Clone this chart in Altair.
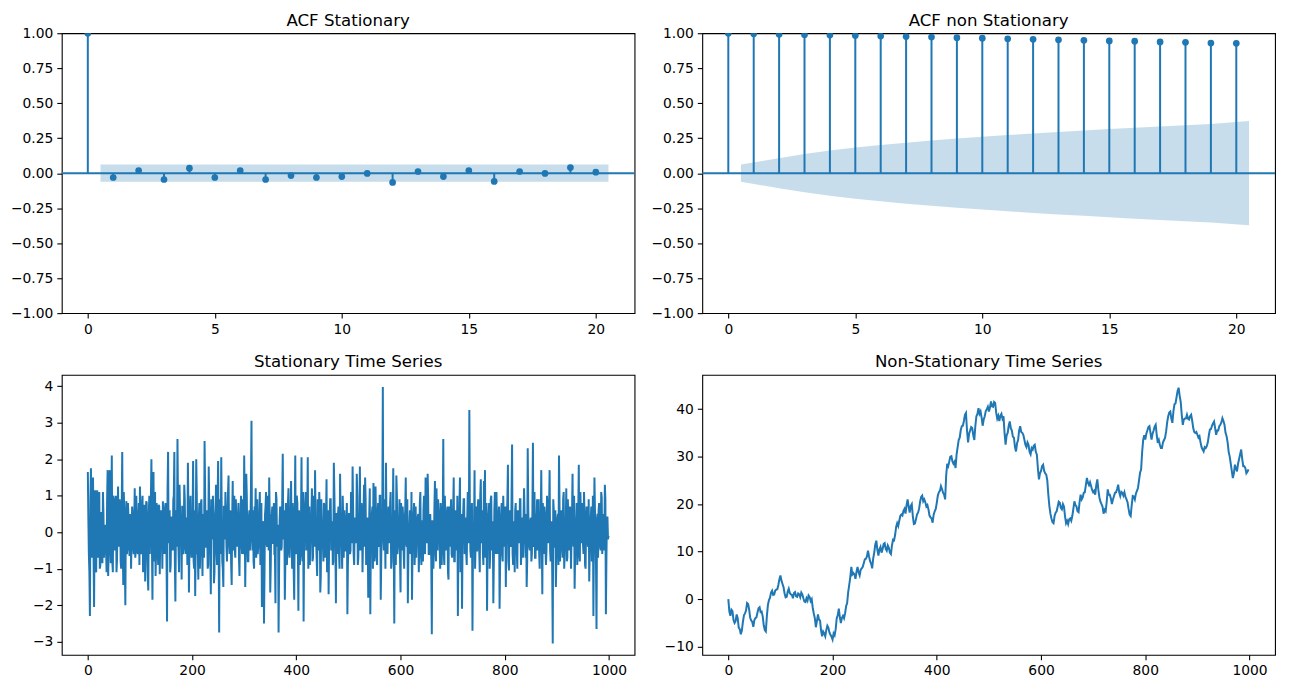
import altair as alt
import pandas as pd

BLUE = "#1f77b4"
FONT = "DejaVu Sans"

# ---------------- data ----------------
lags = list(range(21))
acf_stationary = [1.0, -0.031, 0.019, -0.045, 0.036, -0.031, 0.019, -0.045, -0.017, -0.031,
                  -0.024, -0.002, -0.066, 0.012, -0.024, 0.019, -0.059, 0.012, -0.002, 0.040, 0.007]
acf_nonstationary = [1.0, 0.997, 0.993, 0.990, 0.987, 0.983, 0.980, 0.976, 0.973, 0.968,
                     0.965, 0.960, 0.957, 0.953, 0.950, 0.945, 0.943, 0.938, 0.935, 0.930, 0.928]

band_x = [0.5, 2, 3, 4, 5, 6, 7, 8, 9, 10, 11, 12, 13, 14, 15, 16, 17, 18, 19, 20.5]
band_stationary = [0.062, 0.062, 0.062, 0.062, 0.062, 0.062, 0.062, 0.062, 0.062, 0.062,
                   0.062, 0.062, 0.062, 0.062, 0.062, 0.062, 0.062, 0.062, 0.062, 0.062]
band_nonstationary = [0.062, 0.107, 0.137, 0.162, 0.183, 0.201, 0.218, 0.233, 0.247, 0.260,
                      0.272, 0.284, 0.295, 0.305, 0.315, 0.325, 0.334, 0.343, 0.352, 0.372]

# stationary series: even-numbered observations
stationary_even = [
    1.65, -0.6, -2.3, 1.75, -0.7, 1.5, -2.05, 1.15, -1.1, 1.15, -0.7, 1.1, -0.9, 0.55, -0.85, 0.5, -0.3, 0.1, -1.1, 1.7, -0.5, 1.7, -0.85, 2.1, -1.1,
    0.9, -0.3, 1.0, -0.75, 1.25, -0.2, 0.7, -1.0, 2.2, -1.45, 0.5, -2.0, 0.85, -0.4, 0.4, -0.65, 0.3, -0.1, 0.45, -0.6, 1.2, -0.5, 0.35, -0.6, 0.8,
    1.25, -0.6, 0.7, -1.1, 0.75, -1.35, 0.85, -0.4, -1.6, 1.0, 0.3, 2.0, -1.85, 1.65, -0.7, -1.2, 0.8, -0.5, 0.75, -1.15, 0.6, 0.1, 0.85, -0.3, 0.65,
    0.1, -2.45, 2.2, -0.1, -1.1, 0.4, -0.3, 0.9, 2.2, -1.9, 0.6, 2.55, -0.5, 1.3, -0.2, -1.3, 0.7, -0.4, 0.9, -0.6, 0.3, 1.9, -1.65, 0.6, -0.3,
    -0.5, 1.95, -1.0, -1.75, 2.0, -0.6, -1.3, 0.8, -0.3, 0.9, -1.2, 0.4, 2.5, -0.4, 0.6, -1.0, 1.8, 0.2, -1.7, 0.5, 1.0, -1.4, 0.3, 1.3, -0.9,
    1.95, -2.75, 0.6, 2.05, -0.8, -1.5, 0.7, 1.1, -0.4, 0.2, 1.55, -0.6, 0.5, -1.45, 1.4, -0.3, -0.5, 0.9, -0.2, 0.4, -0.7, 0.2, 1.0, -0.6, -0.5,
    2.1, -1.5, 1.6, -0.3, -0.8, 0.6, 0.2, 3.05, -0.5, -0.8, 0.7, 1.2, -0.3, -0.6, 0.4, 1.1, -0.5, -2.05, 0.3, -2.5, 0.5, 1.1, -0.4, 0.2, 1.5,
    -1.65, 0.4, 0.7, -0.3, -0.6, -1.95, 0.9, -0.2, -2.75, 0.3, 0.6, -0.4, 2.15, 0.5, -1.85, 0.8, -0.9, 0.8, -0.5, 0.2, 1.4, -1.0, 0.3, -1.85, 2.1,
    -0.5, 0.8, -2.15, 0.4, -0.3, 2.05, -0.8, -2.45, 0.5, 1.1, -0.4, 2.05, -0.6, -0.9, 0.4, 1.2, -0.7, 0.3, 1.7, -0.2, -1.2, 0.6, 1.1, -1.65, 0.9,
    0.3, -0.8, 0.7, -0.4, 1.45, 0.1, -1.7, 0.4, 0.9, -0.3, -0.9, 1.9, 0.2, -1.95, 0.5, 0.5, -0.6, 1.6, -0.2, -1.0, 0.4, 0.6, -0.5, 0.3, -2.25,
    -0.4, 0.5, -0.5, 0.3, 1.8, -0.6, 0.2, -0.3, 1.6, -0.9, 0.4, 1.8, -0.4, 0.6, -0.2, 1.3, 1.5, -0.9, 0.4, -1.8, 0.5, -2.25, 0.1, 0.7, 1.35,
    -0.8, 1.25, -0.5, 0.5, -0.3, 1.0, -1.85, 0.6, 3.98, -0.5, 0.3, 1.9, -0.3, 0.4, -0.2, 0.8, -1.0, 0.3, 1.75, -2.5, 0.2, 1.55, -0.6, 0.2, 0.9,
    -1.65, 0.4, 0.7, -0.6, 0.3, 1.5, -0.4, -1.95, 0.2, 0.6, -0.5, -1.85, 0.3, 0.8, -0.3, -0.7, 0.4, 0.5, -0.4, 1.1, -0.9, 0.3, 0.6, -0.5, 1.5,
    -0.3, 1.6, -0.6, 0.4, -0.2, -2.8, 0.3, -0.4, 1.4, -0.8, 0.2, 0.9, -0.3, -1.0, 0.4, 0.6, 2.55, -0.9, 0.3, -0.5, 0.7, -1.3, 0.4, 0.5, -0.6,
    0.2, 1.5, -0.8, 0.6, -0.4, -2.3, 0.5, 1.5, -0.3, -2.1, 0.4, 0.9, -0.4, -0.6, 0.4, -0.2, 3.35, -0.5, 0.3, -2.7, 0.2, 1.7, -0.3, -0.5, 0.6,
    0.3, -1.1, 1.45, -0.2, -0.6, 1.4, 1.7, -0.4, -2.15, 0.5, 0.8, -0.6, 1.0, -0.5, -1.95, 0.6, -0.3, 1.1, -0.6, 0.4, -2.1, 0.2, 0.8, -0.8, 0.4,
    0.3, -1.5, 0.4, 1.85, -1.05, 0.6, -0.3, 2.4, -0.9, 0.2, 0.6, -0.4, -1.0, 0.5, -0.2, 0.9, -0.5, -0.6, 0.4, 0.4, -0.7, -1.5, 2.3, -0.2, -0.5,
    0.4, -0.6, 2.45, -0.3, -0.7, 0.5, 0.9, -0.3, -0.6, 0.3, 1.7, -1.7, 0.2, 0.7, -0.4, -0.5, 0.6, 0.9, 1.7, -0.8, 0.3, -3.05, 0.6, -0.4, -1.5,
    -0.4, 0.5, 2.1, -0.8, 0.4, -0.3, 0.9, -1.0, 0.3, 1.2, -0.7, 0.2, -0.5, 0.6, -0.2, 1.6, -0.4, -1.55, 0.4, 0.8, -0.6, 1.85, -0.8, 0.5, 0.3,
    -0.3, 1.1, -0.9, 0.2, 0.6, -0.4, -1.35, 0.3, 0.7, -0.6, -2.3, 1.5, 0.2, -2.65, 0.5, 0.6, -0.3, -0.5, 0.95, 0.2, -0.5, 1.3, -2.25, 0.4, -0.2,
]
# stationary series: odd-numbered observations
stationary_odd = [
    0.4, -1.1, 0.9, -0.4, 1.2, -0.6, 0.3, -0.9, 0.7, -0.2, 0.8, -1.0, 0.5, -0.3, 1.1, -0.7, 0.2, -0.5, 0.9, -1.2, 0.6, -0.1, 0.4, -0.8, 1.0,
    -0.5, 0.7, -1.1, 0.3, -0.4, 0.9, -0.8, 0.6, -0.2, 1.1, -0.9, 0.4, -0.6, 0.8, -0.3, 0.5, -1.0, 0.7, -0.4, 0.2, -0.7, 1.0, -0.5, 0.3, -0.9,
    0.6, -0.4, 1.0, -0.7, 0.3, -0.2, 0.8, -1.2, 0.5, -0.6, 0.9, -0.3, 0.4, -0.8, 1.1, -0.5, 0.2, -0.9, 0.7, -0.1, 0.5, -1.0, 0.3, -0.6, 0.8,
    -0.7, 1.2, -0.3, 0.6, -0.9, 0.4, -0.5, 1.0, -0.8, 0.2, -0.4, 0.9, -1.1, 0.5, -0.2, 0.7, -0.6, 1.3, -0.3, 0.4, -0.9, 0.6, -0.4, 1.0, -0.7,
    0.3, -0.8, 0.6, -0.2, 1.1, -0.5, 0.4, -1.0, 0.8, -0.3, 0.5, -0.7, 1.2, -0.4, 0.2, -0.9, 0.7, -0.6, 0.9, -0.2, 0.4, -1.1, 0.6, -0.5, 0.8,
    -0.4, 0.9, -0.6, 0.3, -1.0, 0.7, -0.2, 0.5, -0.8, 1.1, -0.3, 0.6, -0.9, 0.4, -0.5, 1.0, -0.7, 0.2, -0.4, 0.8, -1.2, 0.5, -0.3, 0.9, -0.6,
    0.7, -0.3, 1.0, -0.8, 0.4, -0.5, 1.2, -0.2, 0.6, -1.0, 0.3, -0.7, 0.9, -0.4, 0.5, -0.9, 0.8, -0.6, 0.2, -1.1, 0.7, -0.3, 1.0, -0.5, 0.4,
    -0.9, 0.5, -0.3, 0.8, -0.6, 1.1, -0.4, 0.2, -1.0, 0.7, -0.5, 0.9, -0.2, 0.6, -0.8, 0.3, -0.4, 1.2, -0.7, 0.5, -0.3, 0.8, -1.1, 0.4, -0.6,
    1.0, -0.4, 0.6, -0.9, 0.3, -0.6, 1.1, -0.3, 0.8, -0.5, 0.4, -1.0, 0.7, -0.2, 0.5, -0.8, 1.0, -0.4, 0.3, -0.7, 0.9, -0.5, 0.6, -1.2, 0.2,
    -0.3, 0.8, -0.7, 0.4, -1.1, 0.6, -0.2, 0.9, -0.5, 0.3, -0.8, 1.1, -0.4, 0.5, -0.6, 0.7, -1.0, 0.4, -0.3, 1.0, -0.7, 0.2, -0.5, 0.8, -0.9,
    0.5, -0.6, 1.1, -0.3, 0.7, -0.9, 0.4, -0.2, 1.0, -0.7, 0.3, -0.5, 0.8, -1.1, 0.6, -0.4, 0.9, -0.6, 0.2, -0.8, 1.2, -0.3, 0.5, -1.0, 0.7,
    -0.6, 0.3, -0.9, 0.8, -0.4, 1.0, -0.7, 0.5, -0.2, 0.9, -1.0, 0.4, -0.6, 0.7, -0.3, 1.1, -0.8, 0.2, -0.5, 0.6, -0.9, 1.0, -0.4, 0.3, -0.7,
    0.8, -0.5, 0.4, -1.0, 0.6, -0.3, 0.9, -0.7, 0.2, -0.6, 1.1, -0.4, 0.5, -0.9, 0.7, -0.2, 0.4, -1.1, 0.8, -0.5, 0.3, -0.8, 1.0, -0.6, 0.5,
    -0.2, 0.9, -0.6, 0.5, -0.8, 0.3, -1.0, 0.7, -0.4, 1.2, -0.5, 0.6, -0.3, 0.8, -0.9, 0.4, -0.6, 1.0, -0.2, 0.5, -1.1, 0.7, -0.4, 0.9, -0.7,
    0.6, -0.8, 0.3, -0.5, 1.0, -0.4, 0.7, -1.1, 0.5, -0.2, 0.9, -0.6, 0.4, -0.9, 1.1, -0.3, 0.6, -0.7, 0.8, -0.4, 0.2, -1.0, 0.7, -0.5, 0.9,
    -0.5, 1.0, -0.3, 0.6, -0.9, 0.4, -0.7, 0.8, -0.2, 0.5, -1.0, 0.9, -0.4, 0.3, -0.8, 1.1, -0.6, 0.4, -0.3, 0.7, -0.9, 0.5, -0.6, 1.0, -0.4,
    0.7, -0.2, 0.9, -0.8, 0.5, -0.4, 1.0, -0.6, 0.3, -1.1, 0.8, -0.5, 0.6, -0.3, 0.9, -0.9, 0.4, -0.7, 1.2, -0.2, 0.5, -0.8, 0.7, -0.4, 0.3,
    -0.8, 0.6, -0.4, 1.1, -0.7, 0.3, -0.5, 0.9, -1.0, 0.4, -0.2, 0.8, -0.6, 0.5, -0.9, 1.0, -0.3, 0.7, -0.5, 0.2, -1.1, 0.9, -0.4, 0.6, -0.7,
    0.4, -0.9, 0.8, -0.3, 0.6, -0.7, 1.1, -0.5, 0.2, -0.8, 0.9, -0.4, 0.7, -1.0, 0.5, -0.2, 1.0, -0.6, 0.3, -0.9, 0.6, -0.5, 1.1, -0.3, 0.8,
    -0.6, 0.5, -1.0, 0.7, -0.3, 0.9, -0.5, 0.4, -0.8, 1.0, -0.2, 0.6, -0.9, 0.3, -0.7, 0.8, -0.4, 1.1, -0.6, 0.5, -0.3, 0.9, -0.7, 0.4, -0.1,
]

# random walk at t = 0, 4, 8, ...
walk_a = [
    0.0, -3.5, -2.5, -5.0, -3.2, -6.0, -7.4, -4.8, -3.0, -0.8,
    -2.2, -4.5, -5.8, -4.0, -2.8, -1.7, -2.6, -5.5, -6.8, -1.2,
    0.3, 1.8, 1.0, 2.0, 3.0, 5.0, 3.2, 1.2, 0.5, 2.2,
    1.0, 0.2, 1.5, 0.5, 1.0, 1.4, 0.2, -0.6, -0.3, 0.5,
    0.0, -3.0, -5.9, -3.2, -4.5, -7.8, -7.2, -6.5, -6.0, -7.5,
    -8.5, -7.6, -4.0, -2.0, -5.0, -3.5, -3.0, -0.8, 3.0, 6.8,
    5.5, 4.3, 6.8, 5.0, 6.5, 7.6, 8.5, 10.2, 8.0, 6.5,
    9.8, 12.3, 9.2, 11.0, 10.5, 11.8, 10.2, 10.8, 9.5, 12.5,
    13.5, 16.0, 16.5, 17.8, 18.6, 18.0, 21.0, 18.2, 20.0, 15.8,
    16.8, 18.2, 20.5, 21.8, 21.0, 19.5, 18.9, 17.2, 16.1, 18.5,
    20.3, 22.5, 23.8, 22.4, 21.0, 28.5, 29.0, 30.1, 28.5, 27.6,
    32.0, 34.0, 36.4, 37.5, 39.2, 33.0, 35.5, 36.0, 33.5, 38.5,
    40.2, 39.5, 36.5, 38.5, 40.0, 39.5, 41.6, 40.5, 41.3, 38.0,
    37.5, 39.0, 38.5, 32.5, 35.0, 37.4, 35.5, 34.0, 31.1, 33.5,
    36.4, 35.0, 33.6, 32.0, 32.5, 30.5, 31.5, 32.5, 30.4, 25.2,
    27.0, 28.3, 26.5, 25.0, 19.6, 17.0, 16.0, 18.2, 19.5, 20.3,
    18.9, 19.5, 16.0, 15.8, 17.0, 17.5, 20.6, 19.5, 18.3, 22.0,
    21.4, 22.5, 25.5, 24.0, 23.8, 22.5, 22.0, 25.2, 21.4, 20.0,
    18.0, 18.5, 23.1, 22.0, 20.0, 21.7, 22.5, 24.1, 21.7, 22.4,
    22.5, 21.0, 19.0, 17.5, 21.7, 21.0, 22.8, 25.0, 27.3, 33.5,
    33.6, 35.5, 36.4, 33.6, 35.5, 36.7, 32.9, 32.5, 31.8, 33.5,
    35.3, 38.5, 39.5, 37.1, 41.0, 42.5, 44.5, 41.5, 36.7, 38.0,
    38.8, 37.8, 38.8, 36.0, 35.0, 34.6, 34.3, 32.0, 31.1, 31.8,
    33.0, 35.7, 36.5, 37.4, 34.6, 35.5, 36.7, 38.1, 36.7, 34.3,
    31.0, 28.5, 25.5, 28.3, 26.9, 29.5, 31.5, 28.0, 27.6, 26.8,
]
# random walk at t = 2, 6, 10, ...
walk_b = [
    -2.6, -2.2, -4.4, -4.6, -4.0, -6.3, -6.6, -3.4, -2.4, -1.0,
    -3.9, -4.8, -4.4, -3.8, -1.9, -2.7, -3.6, -6.5, -3.5, -0.2,
    1.4, 0.9, 1.8, 2.1, 4.2, 3.9, 2.5, 0.4, 1.6, 1.3,
    0.9, 1.3, 0.6, 1.2, 0.4, 1.0, -0.5, 0.2, 0.8, -0.4,
    -1.8, -4.0, -4.6, -4.3, -6.6, -6.8, -7.8, -5.6, -7.0, -7.9,
    -7.2, -6.3, -3.4, -3.8, -3.9, -4.0, -1.5, 1.5, 4.6, 5.2,
    5.2, 5.8, 5.6, 6.2, 6.8, 8.4, 9.0, 9.0, 7.5, 8.6,
    11.5, 10.4, 10.5, 9.8, 11.6, 10.6, 11.3, 9.8, 11.3, 12.4,
    15.2, 15.4, 17.5, 17.6, 19.0, 19.8, 19.5, 19.6, 17.5, 15.9,
    17.8, 19.0, 21.5, 20.6, 20.4, 19.8, 17.6, 17.0, 17.8, 19.0,
    21.8, 22.8, 23.2, 22.0, 26.0, 28.0, 30.0, 29.0, 28.9, 30.5,
    33.5, 35.6, 36.5, 38.8, 35.5, 34.8, 36.2, 34.5, 36.5, 39.0,
    39.0, 38.2, 37.8, 39.6, 40.5, 40.3, 40.6, 41.5, 39.2, 38.6,
    38.6, 38.0, 35.0, 34.5, 36.5, 36.0, 34.2, 32.0, 32.8, 35.5,
    35.2, 34.6, 32.5, 33.0, 31.0, 31.8, 32.3, 31.0, 27.5, 26.5,
    28.0, 27.0, 26.2, 22.0, 18.0, 16.2, 17.5, 18.5, 20.5, 19.2,
    20.0, 17.5, 16.5, 16.8, 16.5, 19.0, 19.8, 18.5, 20.5, 21.0,
    22.4, 24.0, 24.5, 24.6, 23.0, 22.8, 24.0, 23.0, 20.5, 19.5,
    18.8, 20.5, 22.0, 21.2, 21.0, 22.4, 23.2, 22.5, 22.6, 21.8,
    21.5, 20.4, 17.8, 19.8, 21.6, 22.2, 23.4, 26.6, 31.0, 34.5,
    34.8, 36.2, 35.0, 34.8, 36.3, 34.5, 33.5, 31.8, 33.0, 34.0,
    37.2, 39.3, 38.0, 39.5, 41.2, 43.8, 42.8, 38.8, 37.8, 38.0,
    38.0, 38.5, 37.6, 35.2, 35.2, 34.0, 33.0, 31.5, 32.0, 32.2,
    34.5, 35.8, 37.0, 36.0, 35.5, 36.4, 37.2, 37.5, 35.0, 33.0,
    30.0, 27.0, 26.5, 27.5, 28.5, 30.5, 29.5, 28.0, 26.5, 27.3,
]

acf_ticks_x = [0, 5, 10, 15, 20]
acf_ticks_y = [-1.0, -0.75, -0.5, -0.25, 0.0, 0.25, 0.5, 0.75, 1.0]
ts_ticks_x = [0, 200, 400, 600, 800, 1000]
stat_ticks_y = [-3, -2, -1, 0, 1, 2, 3, 4]
walk_ticks_y = [-10, 0, 10, 20, 30, 40]

stat_t = [2 * i for i in range(len(stationary_even))] + [2 * i + 1 for i in range(len(stationary_odd))]
stat_v = stationary_even + stationary_odd
walk_t = [4 * i for i in range(len(walk_a))] + [4 * i + 2 for i in range(len(walk_b))]
walk_v = walk_a + walk_b

W, H = 575, 281
LW = 2.0


def ttl(text, offset):
    return alt.TitleParams(text=text, font=FONT, fontSize=16.7, fontWeight="normal",
                           color="black", offset=offset, anchor="middle", baseline="alphabetic")


def acf_panel(title, acf, band):
    df = pd.DataFrame({"lag": lags, "acf": acf, "base": [0.0] * len(lags)})
    bdf = pd.DataFrame({"bx": band_x, "lo": [-b for b in band], "hi": band})
    zdf = pd.DataFrame({"z": [0.0]})
    xsc = alt.Scale(domain=[-1.025, 21.525], nice=False, zero=False)
    ysc = alt.Scale(domain=[-1.0, 1.0], nice=False, zero=False)
    xax = alt.Axis(values=acf_ticks_x, format="d")
    yax = alt.Axis(values=acf_ticks_y, format=".2f")
    x = alt.X("lag:Q", scale=xsc, axis=xax, title=None)
    y = alt.Y("acf:Q", scale=ysc, axis=yax, title=None)
    stems = alt.Chart(df).mark_rule(color=BLUE, strokeWidth=LW, clip=True).encode(x=x, y=y, y2="base:Q")
    zero = alt.Chart(zdf).mark_rule(color=BLUE, strokeWidth=LW).encode(
        y=alt.Y("z:Q", scale=ysc, axis=yax, title=None))
    pts = alt.Chart(df).mark_circle(color=BLUE, size=45, opacity=1, clip=True).encode(x=x, y=y)
    area = alt.Chart(bdf).mark_area(color=BLUE, opacity=0.25).encode(
        x=alt.X("bx:Q", scale=xsc, axis=xax, title=None),
        y=alt.Y("lo:Q", scale=ysc, axis=yax, title=None),
        y2="hi:Q",
    )
    return alt.layer(stems, pts, zero, area).properties(title=ttl(title, -16), width=W, height=H)


def ts_panel(title, t, v, ydom, yticks):
    df = pd.DataFrame({"t": t, "v": v})
    return alt.Chart(df).mark_line(color=BLUE, strokeWidth=LW, clip=True).encode(
        x=alt.X("t:Q", scale=alt.Scale(domain=[-49.95, 1048.95], nice=False, zero=False),
                axis=alt.Axis(values=ts_ticks_x, format="d"), title=None),
        y=alt.Y("v:Q", scale=alt.Scale(domain=ydom, nice=False, zero=False),
                axis=alt.Axis(values=yticks, format="d"), title=None),
    ).properties(title=ttl(title, -9), width=W, height=H)


p1 = acf_panel("ACF Stationary", acf_stationary, band_stationary)
p2 = acf_panel("ACF non Stationary", acf_nonstationary, band_nonstationary)
p3 = ts_panel("Stationary Time Series", stat_t, stat_v, [-3.36, 4.31], stat_ticks_y)
p4 = ts_panel("Non-Stationary Time Series", walk_t, walk_v, [-11.7, 47.2], walk_ticks_y)

chart = alt.concat(p1, p2, p3, p4, columns=2, spacing={"row": 62, "column": 68}, bounds="flush").properties(
    padding={"left": 1, "top": 2, "right": 5, "bottom": 5},
    background="white",
).configure_view(stroke="black", strokeWidth=1.1).configure_axis(
    domain=False, grid=False, tickColor="black", tickSize=5, tickWidth=1.1,
    labelColor="black", labelFont=FONT, labelFontSize=13.9, labelPadding=4,
)

chart.save("out.html", embed_options={"renderer": "svg", "actions": False})
